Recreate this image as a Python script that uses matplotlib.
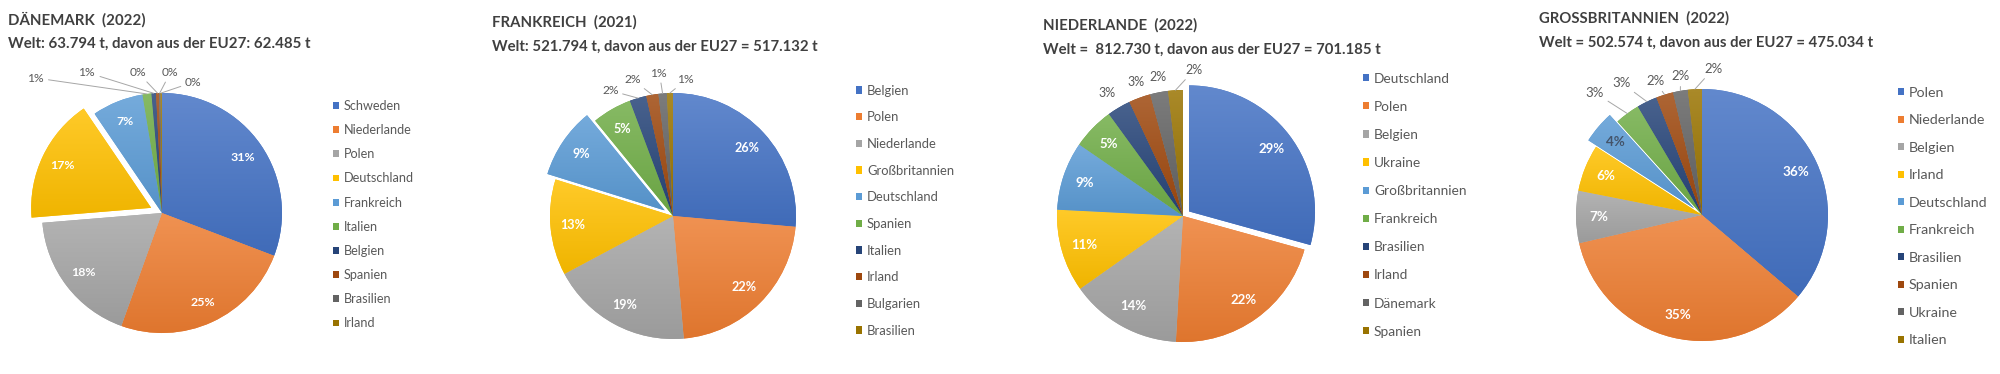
import matplotlib
matplotlib.use("Agg")
import matplotlib.pyplot as plt
import matplotlib.colors as mcolors
import numpy as np

plt.rcParams['font.family'] = ['Lato', 'DejaVu Sans']

# ---------------- data ----------------
dk_countries = ["Schweden", "Niederlande", "Polen", "Deutschland", "Frankreich",
                "Italien", "Belgien", "Spanien", "Brasilien", "Irland"]
dk_values = [30.8, 24.7, 18.2, 16.8, 6.9, 1.2, 0.6, 0.4, 0.2, 0.2]
dk_title = "DÄNEMARK  (2022)"
dk_subtitle = "Welt: 63.794 t, davon aus der EU27: 62.485 t"

fr_countries = ["Belgien", "Polen", "Niederlande", "Großbritannien", "Deutschland",
                "Spanien", "Italien", "Irland", "Bulgarien", "Brasilien"]
fr_values = [26.4, 22.2, 18.6, 12.6, 9.3, 5.2, 2.2, 1.6, 1.1, 0.8]
fr_title = "FRANKREICH  (2021)"
fr_subtitle = "Welt: 521.794 t, davon aus der EU27 = 517.132 t"

nl_countries = ["Deutschland", "Polen", "Belgien", "Ukraine", "Großbritannien",
                "Frankreich", "Brasilien", "Irland", "Dänemark", "Spanien"]
nl_values = [29.3, 21.6, 14.3, 10.6, 8.8, 5.4, 3.0, 2.8, 2.3, 1.9]
nl_title = "NIEDERLANDE  (2022)"
nl_subtitle = "Welt =  812.730 t, davon aus der EU27 = 701.185 t"

gb_countries = ["Polen", "Niederlande", "Belgien", "Irland", "Deutschland",
                "Frankreich", "Brasilien", "Spanien", "Ukraine", "Italien"]
gb_values = [36.2, 35.2, 6.7, 6.0, 4.2, 3.2, 2.6, 2.2, 1.9, 1.8]
gb_title = "GROSSBRITANNIEN  (2022)"
gb_subtitle = "Welt = 502.574 t, davon aus der EU27 = 475.034 t"

# ---------------- style / layout ----------------
colors = ['#4472C4', '#ED7D31', '#A5A5A5', '#FFC000', '#5B9BD5',
          '#70AD47', '#264478', '#9E480E', '#636363', '#997300']
TXT = '#404040'
LEG = '#595959'

W, H = 2000, 374
fig = plt.figure(figsize=(W / 100, H / 100), dpi=100)
fig.patch.set_facecolor('white')
renderer = fig.canvas.get_renderer()


def fit_size(text, target_px, weight='normal'):
    t = fig.text(0, 0, text, fontsize=10, fontweight=weight)
    w = t.get_window_extent(renderer).width
    t.remove()
    return 10 * target_px / w


panels = [
    dict(countries=dk_countries, values=dk_values, title=dk_title, subtitle=dk_subtitle,
         center=(162, 213), r=120, explode_idx=3, explode=0.10,
         title_xy=(8, 20), sub_y=44, sub_w=303,
         leg_x=333, leg_y0=105.5, leg_y1=323, leg_ref=("Niederlande", 68),
         pct_ref=("31%", 24.3), out_ref=("1%", 16.7),
         outside={5: (-1.05, 1.125, True), 6: (-0.62, 1.17, True), 7: (-0.20, 1.17, True),
                  8: (0.07, 1.17, True), 9: (0.26, 1.09, True)},
         dark={}),
    dict(countries=fr_countries, values=fr_values, title=fr_title, subtitle=fr_subtitle,
         center=(673, 216), r=123, explode_idx=4, explode=0.08,
         title_xy=(492, 22), sub_y=47, sub_w=327,
         leg_x=856, leg_y0=90, leg_y1=330, leg_ref=("Niederlande", 70),
         pct_ref=("26%", 25), out_ref=("2%", 16.7),
         outside={6: (-0.51, 1.02, True), 7: (-0.33, 1.11, True), 8: (-0.11, 1.16, True),
                  9: (0.11, 1.11, True)},
         dark={}),
    dict(countries=nl_countries, values=nl_values, title=nl_title, subtitle=nl_subtitle,
         center=(1183, 216), r=126, explode_idx=0, explode=0.06,
         title_xy=(1043, 25), sub_y=50, sub_w=337,
         leg_x=1363, leg_y0=77.7, leg_y1=330.7, leg_ref=("Großbritannien", 93),
         pct_ref=("29%", 26.3), out_ref=("3%", 17.3),
         outside={6: (-0.60, 0.98, False), 7: (-0.37, 1.06, False), 8: (-0.20, 1.10, False),
                  9: (0.09, 1.16, True)},
         dark={}),
    dict(countries=gb_countries, values=gb_values, title=gb_title, subtitle=gb_subtitle,
         center=(1702, 215), r=126, explode_idx=4, explode=0.08,
         title_xy=(1539, 18), sub_y=43, sub_w=335,
         leg_x=1898, leg_y0=91.7, leg_y1=339.3, leg_ref=("Niederlande", 77),
         pct_ref=("36%", 26.7), out_ref=("3%", 18.3),
         outside={5: (-0.85, 0.97, True), 6: (-0.64, 1.05, True), 7: (-0.37, 1.06, True),
                  8: (-0.17, 1.10, True), 9: (0.09, 1.16, True)},
         dark={4: '#44546A'}),
]


def shade(color, f):
    c = np.array(mcolors.to_rgb(color))
    if f >= 0:
        return c + (1 - c) * f
    return c * (1 + f)


L = 1.5
for p in panels:
    cx, cy = p['center']
    r = p['r']
    ax = fig.add_axes([(cx - L * r) / W, (H - cy - L * r) / H, 2 * L * r / W, 2 * L * r / H])
    vals = p['values']
    n = len(vals)
    explode = [p['explode'] if i == p['explode_idx'] else 0 for i in range(n)]
    pct_fs = fit_size(p['pct_ref'][0], p['pct_ref'][1], 'bold')
    out_fs = fit_size(p['out_ref'][0], p['out_ref'][1])
    wedges, texts, autotexts = ax.pie(
        vals, colors=colors[:n], explode=explode, startangle=90, counterclock=False,
        radius=1, autopct=lambda q: f"{q:.0f}%", pctdistance=0.82,
        wedgeprops=dict(linewidth=0),
        textprops=dict(color='white', fontsize=pct_fs, fontweight='bold'))
    # subtle Excel-like gradient on each slice
    for w, col in zip(wedges, colors[:n]):
        ext = w.get_path().get_extents()
        grad = np.linspace(0, 1, 64)[:, None]
        top, bot = shade(col, 0.16), shade(col, -0.06)
        img = top[None, None, :] * (1 - grad[:, :, None]) + bot[None, None, :] * grad[:, :, None]
        im = ax.imshow(img, extent=(ext.x0, ext.x1, ext.y0, ext.y1), origin='upper',
                       aspect='auto', zorder=w.get_zorder() + 0.01, interpolation='bilinear')
        im.set_clip_path(w)
    for t in autotexts:
        t.set_zorder(5)
    ax.set_xlim(-L, L)
    ax.set_ylim(-L, L)
    ax.set_aspect('auto')
    ax.axis('off')
    for i, (w, t) in enumerate(zip(wedges, autotexts)):
        if i in p['dark']:
            t.set_color(p['dark'][i])
        if i in p['outside']:
            t.set_visible(False)
            tx, ty, line = p['outside'][i]
            ang = np.deg2rad((w.theta1 + w.theta2) / 2)
            wx, wy = w.center
            xy = (wx + w.r * np.cos(ang), wy + w.r * np.sin(ang))
            ap = dict(arrowstyle='-', color='#A6A6A6', lw=0.7, shrinkA=1, shrinkB=0) if line else None
            ax.annotate(t.get_text(), xy=xy, xytext=(tx, ty), ha='center', va='center',
                        fontsize=out_fs, color=LEG, arrowprops=ap, annotation_clip=False,
                        zorder=6)

    # legend, fitted to the reference geometry
    leg_fs = fit_size(p['leg_ref'][0], p['leg_ref'][1])
    fs_px = leg_fs * 100 / 72
    sq = 6.0
    target_pitch = (p['leg_y1'] - p['leg_y0']) / (n - 1)
    ls = 0.8
    ax_x, ax_y = p['leg_x'] / W, 1 - (p['leg_y0'] - 8) / H
    for it in range(3):
        leg = ax.legend(wedges, p['countries'], loc='upper left',
                        bbox_to_anchor=(ax_x, ax_y), bbox_transform=fig.transFigure,
                        frameon=False, fontsize=leg_fs, labelcolor=LEG,
                        handlelength=sq / fs_px, handleheight=sq / fs_px,
                        handletextpad=5 / fs_px, labelspacing=ls,
                        borderpad=0, borderaxespad=0)
        fig.canvas.draw()
        hs = leg.legend_handles
        e0 = hs[0].get_window_extent(renderer)
        e1 = hs[-1].get_window_extent(renderer)
        c0 = (e0.y0 + e0.y1) / 2
        c1 = (e1.y0 + e1.y1) / 2
        pitch = (c0 - c1) / (n - 1)
        ls = ls + (target_pitch - pitch) / fs_px
        ax_y += ((H - p['leg_y0']) - c0) / H
        ax_x += (p['leg_x'] - e0.x0) / W

    tx, ty = p['title_xy']
    t_fs = fit_size(p['subtitle'], p['sub_w'], 'bold')
    fig.text(tx / W, 1 - ty / H, p['title'], ha='left', va='center', fontsize=t_fs,
             fontweight='bold', color=TXT)
    fig.text(tx / W, 1 - p['sub_y'] / H, p['subtitle'], ha='left', va='center', fontsize=t_fs,
             fontweight='bold', color=TXT)

fig.savefig('out.png', dpi=100, facecolor='white')
